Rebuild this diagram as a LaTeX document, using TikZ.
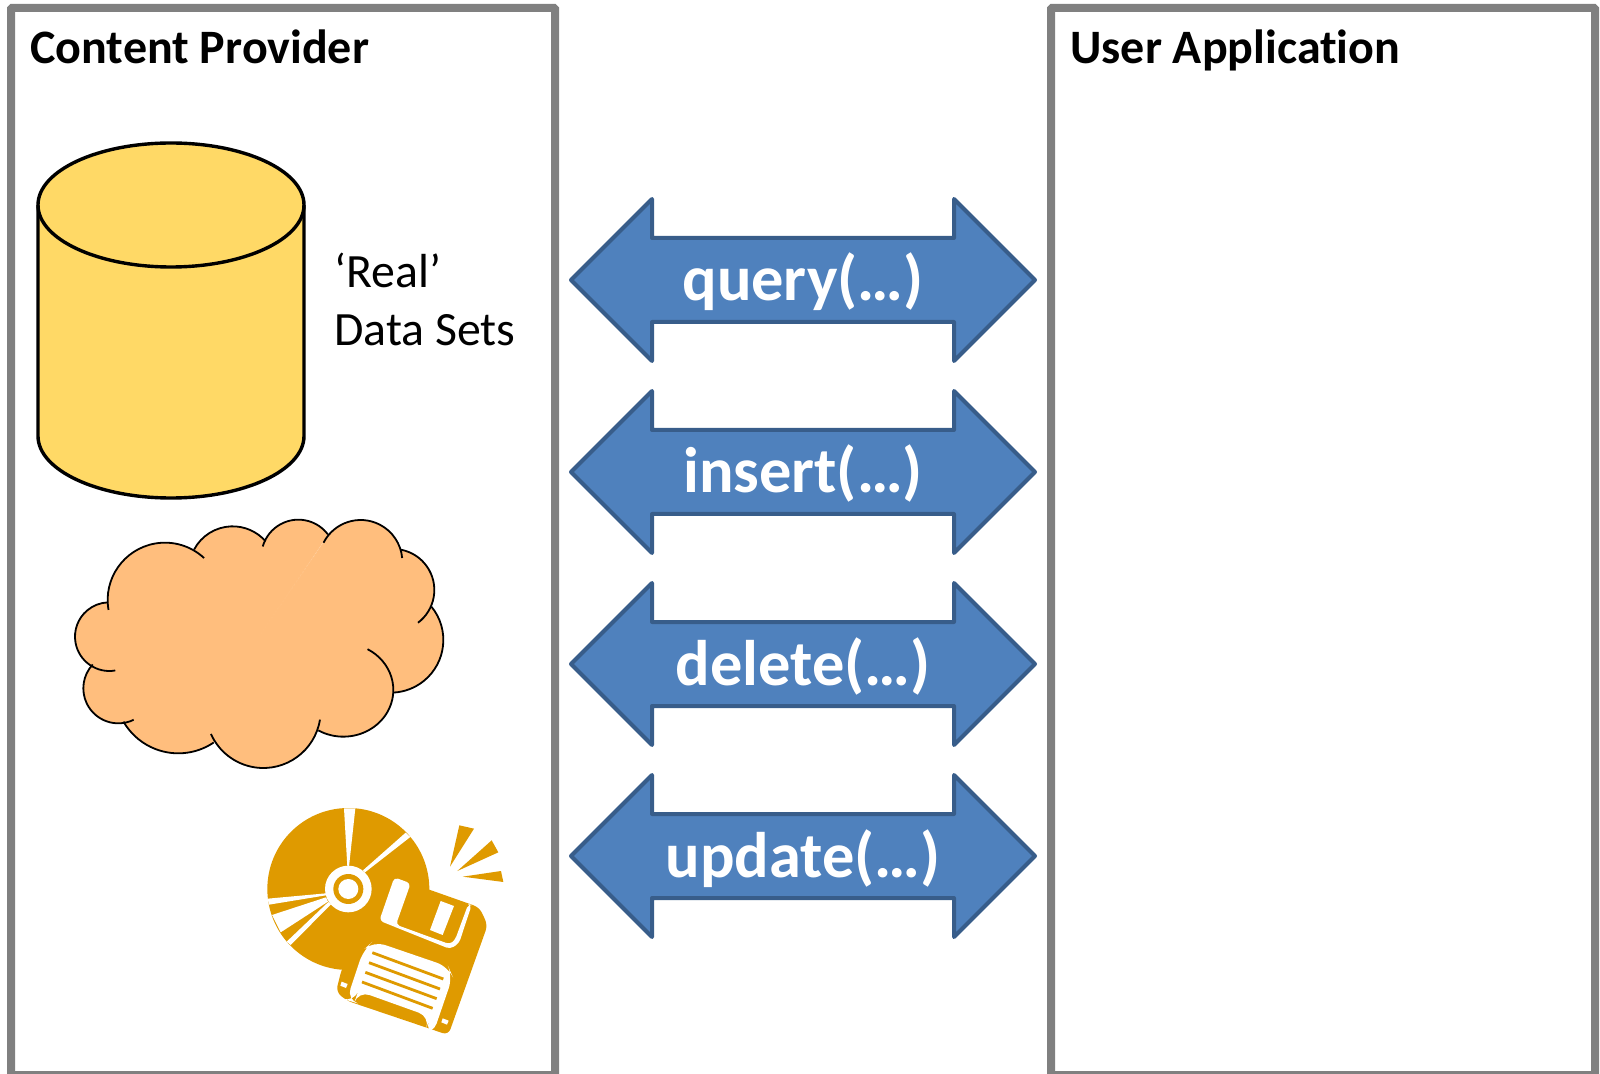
\documentclass[tikz,border=0pt]{standalone}
\usepackage{fontspec}
\setmainfont{Carlito}[Ligatures = NoCommon]
\usetikzlibrary{
    positioning,
    shapes.arrows
}
\definecolor{panelgray}{HTML}{808080}
\definecolor{callfill}{HTML}{4F81BD}
\definecolor{callline}{HTML}{385D8A}
\definecolor{datafill}{HTML}{FFD966}
\definecolor{cloudfill}{HTML}{FFBE7D}
\definecolor{mediafill}{HTML}{DF9A00}
\tikzset{
    every picture/.style = {
        x = 0.5pt,
        y = -0.5pt
    },
    panel/.style = {
        draw = panelgray,
        line width = 4pt,
        minimum height = 533.5pt,
        minimum width = 272pt,
        rounded corners = 0.5pt
    },
    title/.style = {
        font = {\fontsize{24}{29}\selectfont\bfseries},
        inner sep = 0pt,
        anchor = base west
    },
    callarrow/.style = {
        shape = double arrow,
        draw = callline,
        line width = 2pt,
        fill = callfill,
        text = white,
        line join = round,
        font = {\fontsize{32.2}{36}\selectfont\bfseries},
        text height = 30pt,
        text depth = 9pt,
        text width = 140pt,
        align = center,
        inner sep = 0.5pt,
        minimum height = 232pt,
        minimum width = 79pt,
        double arrow head extend = 19.5pt,
        double arrow tip angle = 90
    },
    datashape/.style = {draw = black, line width = 1.7pt},
    cloudbody/.style = {fill = cloudfill, draw = cloudfill, line width = 0.4pt},
    cloudedge/.style = {draw = black, line width = 0.9pt}
}
% one lobe of the cloud: centre x/y, radii x/y, first and last angle
\newcommand{\lobelist}{
    345/330/172/172/170/313,
    548/240/131/131/208/319,
    745/200/111/111/196/323,
    932/215/125/125/207/355,
    1030/300/123/123/280/413,
    1022/450/158/158/-39/87,
    880/600/150/140/-61/120,
    640/662/172/172/9/156,
    385/600/190/190/56/150,
    205/595/105/105/64/223,
    178/440/103/103/80/268
}
\begin{document}
\begin{tikzpicture}
    \useasboundingbox (0,0) rectangle (1600,1074);

    \node[panel] (provider) at (283,541.5) {};
    \node[panel] (application) at (1323,541.5) {};
    \node[title] (providertitle) at (30,64) {Content Provider};
    \node[title] (applicationtitle) at (1070,64) {User Application};

    % data sets
    \path[datashape, fill = datafill] (38,205) -- (38,436)
        arc[start angle = 180, end angle = 0, x radius = 133, y radius = 62]
        -- (304,205)
        arc[start angle = 0, end angle = -180, x radius = 133, y radius = 62] -- cycle;
    \draw[datashape] (38,205) arc[start angle = 180, end angle = 0, x radius = 133, y radius = 62];
    \node[anchor = west, align = left, inner sep = 0pt,
        font = {\fontsize{23.9}{29}\selectfont}] (datalabel) at (334,299) {‘Real’\\Data Sets};

    % cloud
    \begin{scope}[shift = {(50,490)}, scale = 1/3]
        \foreach \cx/\cy/\rx/\ry/\sa/\ea in \lobelist
            \path[cloudbody] (\cx,\cy) ++(\sa:{\rx} and {\ry})
                arc[start angle = \sa, end angle = \ea, x radius = \rx, y radius = \ry]
                -- (620,450) -- cycle;
        \foreach \cx/\cy/\rx/\ry/\sa/\ea in \lobelist
            \path[cloudedge] (\cx,\cy) ++(\sa:{\rx} and {\ry})
                arc[start angle = \sa, end angle = \ea, x radius = \rx, y radius = \ry];
    \end{scope}

    % disc and floppy
    \begin{scope}[shift = {(240,770)}, scale = 1/3]
        \fill[mediafill] (325,357) circle[radius = 243];
        \fill[white] (312,115) -- (346,115) -- (327,290) -- (322,290) -- cycle;
        \fill[white] (497,188) -- (511,201) -- (375,307) -- (369,301) -- cycle;
        \fill[white] (83,386) -- (258,370) -- (258,376) -- (87,404) -- cycle;
        \fill[white] (96,435) -- (122,487) -- (264,395) -- (258,382) -- cycle;
        \fill[white] (140,515) -- (152,525) -- (273,403) -- (265,396) -- cycle;
        \fill[white] (325,357) circle[radius = 70];
        \fill[mediafill] (325,357) circle[radius = 45];
        \fill[white] (325,357) circle[radius = 30];
        \fill[mediafill, rounded corners = 3pt] (463,322) -- (718,412) -- (743,465) -- (625,795)
            -- (320,692) -- (288,665) -- (305,598) -- (400,400) -- cycle;
        \fill[white, rounded corners = 2pt] (463,322) -- (418,452) -- (630,537) -- (657,520) -- (695,405)
            -- (685,402) -- (645,510) -- (630,523) -- (468,464) -- (512,340) -- cycle;
        \fill[white] (602,393) -- (642,408) -- (608,495) -- (570,480) -- cycle;
        \fill[white, rounded corners = 6pt] (400,513) -- (625,590) -- (638,620) -- (578,795)
            -- (555,788) -- (570,740) -- (355,663) -- (343,697) -- (320,690) -- (370,540) -- cycle;
        \foreach \xa/\ya/\xb/\yb in {397/548/610/627, 387/578/600/657, 376/607/590/686, 366/636/578/715}
            \draw[mediafill, line width = 1.4pt] (\xa,\ya) -- (\xb,\yb);
        \fill[white] (305,635) -- (323,642) -- (318,654) -- (301,647) -- cycle;
        \fill[white] (608,745) -- (626,752) -- (621,764) -- (604,757) -- cycle;
        \fill[mediafill] (658,166) -- (702,176) -- (630,290) -- cycle;
        \fill[mediafill] (755,211) -- (775,247) -- (652,303) -- cycle;
        \fill[mediafill] (783,303) -- (790,336) -- (668,320) -- cycle;
    \end{scope}

    % calls
    \node[callarrow] (query) at (803,280) {query(…)};
    \node[callarrow, below = 96pt of query.center, anchor = center] (insert) {insert(…)};
    \node[callarrow, below = 96pt of insert.center, anchor = center] (delete) {delete(…)};
    \node[callarrow, below = 96pt of delete.center, anchor = center] (update) {update(…)};
\end{tikzpicture}
\end{document}
